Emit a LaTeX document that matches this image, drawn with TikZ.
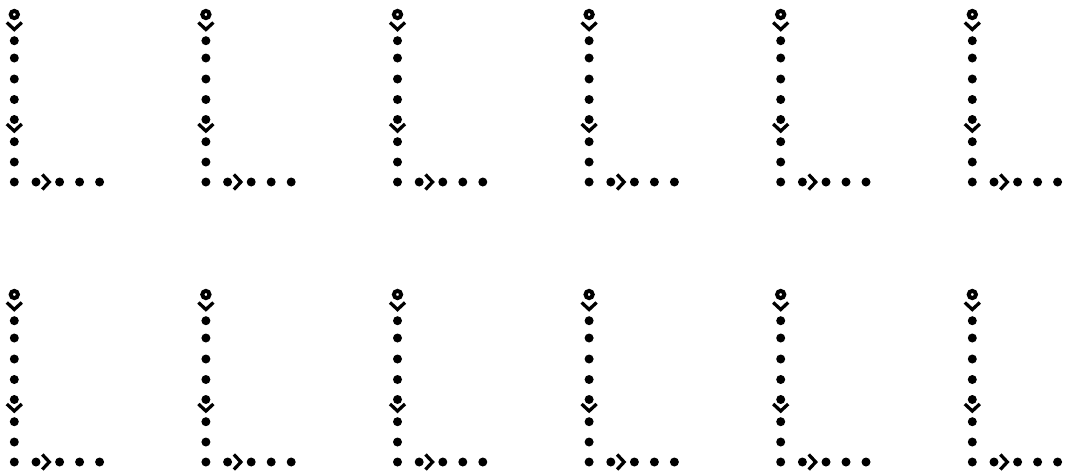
\documentclass[tikz,border=0pt]{standalone}
\begin{document}
\begin{tikzpicture}[x=1pt,y=-1pt,
  dotmark/.style={fill=black},
  ringmark/.style={draw=black,fill=white,line width=4pt},
  chev/.style={draw=black,line width=3.3pt,line join=miter,line cap=butt}]
\useasboundingbox (0,0) rectangle (1068,472);
\foreach \r in {0,1}{
 \foreach \c in {0,...,5}{
  \begin{scope}[shift={(14.3+191.6*\c,280*\r)}]
   \foreach \y in {40.7,58,79,99.5,119.5,141.7,162,182}{\fill[dotmark] (0,\y) circle (4.5);}
   \foreach \x in {21.7,45.3,65.3,85.3}{\fill[dotmark] (\x,182) circle (4.5);}
   \draw[ringmark] (0,14.5) circle (3.6);
   \draw[chev] (-7.5,22.5) -- (0,29.5) -- (7.5,22.5);
   \draw[chev] (-7.5,124) -- (0,131) -- (7.5,124);
   \draw[chev] (28,174.5) -- (35,182) -- (28,189.5);
  \end{scope}
 }
}
\end{tikzpicture}
\end{document}
